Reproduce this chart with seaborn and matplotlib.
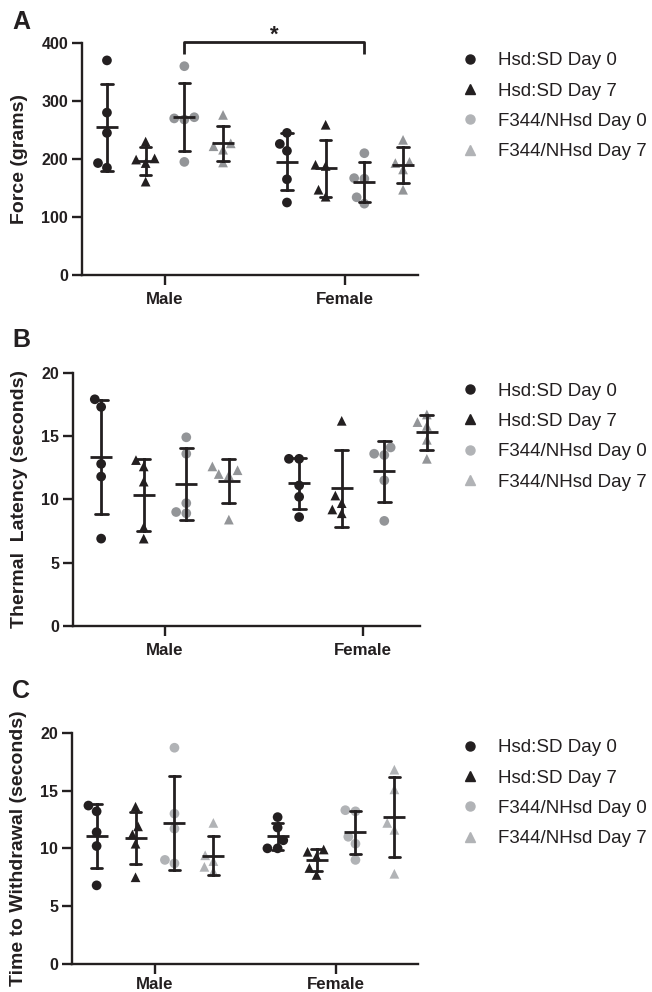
import numpy as np
import pandas as pd
import matplotlib
matplotlib.use("Agg")
import matplotlib.pyplot as plt
import seaborn as sns
from matplotlib.lines import Line2D

# ---------------- data ----------------
sexes = ["Male", "Female"]
groups = ["Hsd:SD Day 0", "Hsd:SD Day 7", "F344/NHsd Day 0", "F344/NHsd Day 7"]

force_male = [[370, 280, 245, 193, 185],
              [230, 201, 199, 193, 161],
              [360, 272, 270, 268, 195],
              [276, 227, 222, 216, 194]]
force_female = [[245, 226, 214, 165, 125],
                [259, 190, 188, 147, 135],
                [210, 167, 166, 134, 123],
                [233, 195, 193, 182, 147]]

thermal_male = [[17.9, 17.3, 12.8, 11.8, 6.9],
                [13.1, 12.6, 11.4, 7.8, 6.9],
                [14.9, 13.6, 9.7, 9.0, 8.9],
                [12.6, 12.3, 12.0, 11.9, 8.4]]
thermal_female = [[13.2, 13.2, 11.1, 10.2, 8.6],
                  [16.2, 10.3, 9.7, 9.2, 8.9],
                  [14.1, 13.6, 13.5, 11.5, 8.3],
                  [16.7, 16.1, 15.8, 14.7, 13.2]]

withdraw_male = [[13.7, 13.2, 11.4, 10.2, 6.8],
                 [13.6, 11.9, 11.2, 10.4, 7.5],
                 [18.7, 13.0, 11.7, 9.0, 8.7],
                 [12.2, 9.4, 8.9, 8.4, 8.0]]
withdraw_female = [[12.7, 11.8, 10.7, 10.0, 10.0],
                   [9.9, 9.7, 9.3, 8.3, 7.7],
                   [13.3, 13.2, 11.0, 10.4, 9.0],
                   [16.8, 15.1, 12.2, 11.6, 7.8]]

force_ticks = [0, 100, 200, 300, 400]
seconds_ticks = [0, 5, 10, 15, 20]

# ---------------- style ----------------
sns.set_theme(style="ticks")
plt.rcParams['font.family'] = ['Liberation Sans', 'DejaVu Sans']
INK = "#231f20"
GREY_AB = "#939598"
GREY_C = "#b1b3b6"
GREY_LEG = "#b1b3b6"
for k in ["text.color", "axes.labelcolor", "xtick.color", "ytick.color", "axes.edgecolor"]:
    plt.rcParams[k] = INK

W, H = 652, 992
fig = plt.figure(figsize=(W / 100, H / 100), dpi=100)

STEP = 0.215  # horizontal spacing between the four groups inside a sex cluster


def long_df(male, female):
    rows = []
    for si, (sex, vals) in enumerate(zip(sexes, [male, female])):
        for gi, (g, v) in enumerate(zip(groups, vals)):
            for y in v:
                rows.append((sex, g, si + (gi - 1.5) * STEP, y))
    return pd.DataFrame(rows, columns=["sex", "group", "pos", "value"])


def px_axes(left, right, top, bottom):
    return fig.add_axes([left / W, 1 - bottom / H, (right - left) / W, (bottom - top) / H])


markers = ["o", "^", "o", "^"]


def panel(ax, df, grey, ticks, ylabel, xlim, label_x, xpad=5):
    pal = {groups[0]: INK, groups[1]: INK, groups[2]: grey, groups[3]: grey}
    for g, m in zip(groups, markers):
        sub = df[df.group == g]
        sns.swarmplot(data=sub, x="pos", y="value", hue="group", hue_order=groups,
                      palette=pal, marker=m, size=7.0, native_scale=True,
                      legend=False, ax=ax, linewidth=0, zorder=2)
    sns.pointplot(data=df, x="pos", y="value", hue="group", hue_order=groups,
                  palette=[INK] * 4, errorbar="sd", native_scale=True,
                  linestyle="none", markers="_", markersize=16.5,
                  markeredgewidth=2.0, capsize=0.3,
                  err_kws={"linewidth": 2.0}, legend=False, ax=ax, zorder=3)
    for coll in ax.collections:
        coll.set_clip_on(False)
    for ln in ax.lines:
        ln.set_clip_on(False)
    ax.set_xlim(*xlim)
    ax.set_ylim(ticks[0], ticks[-1])
    ax.set_yticks(ticks, labels=[str(t) for t in ticks], fontweight="bold", fontsize=11.5)
    ax.set_xticks([0, 1], labels=sexes, fontweight="bold", fontsize=12.2)
    sns.despine(ax=ax)
    for s in ["left", "bottom"]:
        ax.spines[s].set_linewidth(1.7)
        ax.spines[s].set_color(INK)
    ax.tick_params(axis="both", width=1.7, length=7, color=INK)
    ax.tick_params(axis="y", pad=3)
    ax.tick_params(axis="x", pad=xpad)
    ax.set_xlabel("")
    ax.set_ylabel(ylabel, fontsize=14, fontweight="bold")
    ax.yaxis.set_label_coords(label_x / W, 0.5,
                              transform=matplotlib.transforms.blended_transform_factory(
                                  fig.transFigure, ax.transAxes))
    ax.patch.set_alpha(0)


def legend(ax, top_px):
    handles = [
        Line2D([], [], marker="o", linestyle="none", color=INK, markersize=6.5),
        Line2D([], [], marker="^", linestyle="none", color=INK, markersize=6.5),
        Line2D([], [], marker="o", linestyle="none", color=GREY_LEG, markersize=6.5),
        Line2D([], [], marker="^", linestyle="none", color=GREY_LEG, markersize=6.5),
    ]
    ax.legend(handles, groups, loc="upper left",
              bbox_to_anchor=(460.6 / W, 1 - top_px / H), bbox_transform=fig.transFigure,
              frameon=False, fontsize=13.5, handlelength=1.0, handletextpad=1.0,
              labelspacing=0.71, borderpad=0, borderaxespad=0, labelcolor=INK)


# Panel A
axA = px_axes(82, 418, 43, 275)
panel(axA, long_df(force_male, force_female), GREY_AB, force_ticks, "Force (grams)",
      ((82 - 165) / 180, (418 - 165) / 180), 28)
legend(axA, 52)
# significance bracket between Male F344 Day 0 and Female F344 Day 0
off = 0.5 * STEP
axA.plot([0 + off, 0 + off, 1 + off, 1 + off], [381, 402, 402, 381], color=INK,
         lw=2.0, clip_on=False, solid_capstyle="butt")
axA.text(0.5 + off, 404, "*", ha="center", va="baseline", fontsize=16,
         fontweight="bold", color=INK, clip_on=False)

# Panel B
axB = px_axes(73, 420, 372.7, 626)
panel(axB, long_df(thermal_male, thermal_female), GREY_AB, seconds_ticks,
      "Thermal  Latency (seconds)", ((73 - 165) / 198, (420 - 165) / 198), 28)
legend(axB, 382.5)

# Panel C
axC = px_axes(72, 418, 732.7, 964)
panel(axC, long_df(withdraw_male, withdraw_female), GREY_C, seconds_ticks,
      "Time to Withdrawal (seconds)", ((72 - 155) / 181, (418 - 155) / 181), 27,
      xpad=2.5)
legend(axC, 739)

# panel letters
for letter, ypx in [("A", 10), ("B", 328), ("C", 679)]:
    fig.text(12 / W, 1 - ypx / H, letter, fontsize=18, fontweight="bold",
             ha="left", va="top", color=INK)

fig.savefig("out.png", dpi=100)
